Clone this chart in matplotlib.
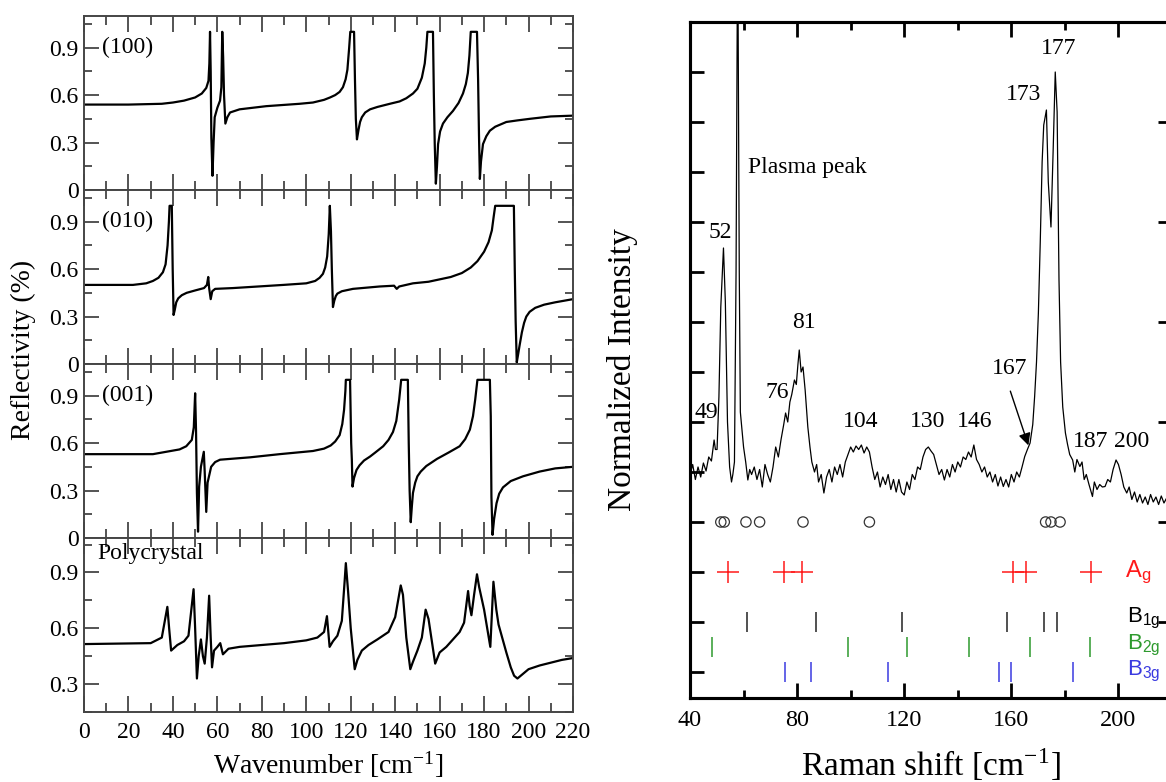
import matplotlib
matplotlib.use('Agg')
import matplotlib.pyplot as plt
from matplotlib.ticker import MultipleLocator

plt.rcParams['font.family'] = 'Liberation Serif'
plt.rcParams['mathtext.fontset'] = 'stix'

# ---------------- left: reflectivity spectra ----------------
wn_100 = [0, 20, 35, 40, 45, 50, 53, 55, 56, 56.4, 56.7, 57.0, 57.3, 57.8, 58.3, 58.8, 60, 61.2, 61.8,
          62.2, 62.6, 63.0, 63.6, 64.5, 65.7, 70, 82, 97, 103, 108, 110.7, 113, 115, 116.5, 117.7, 118.5,
          119.3, 119.8, 121.5, 121.9, 122.3, 122.8, 123.5, 124.2, 125, 126.5, 128.7, 132, 137.6, 142, 145,
          148, 150, 152, 153.3, 154, 154.5, 157, 157.4, 157.8, 158.3, 158.8, 159.3, 160.2, 161.5, 163.5,
          166, 168.5, 170.5, 171.8, 172.7, 173.4, 174, 176.8, 177.3, 177.7, 178.1, 178.6, 179.5, 181,
          182.6, 185, 190, 195, 200.6, 210, 220]
r_100 = [0.54, 0.54, 0.545, 0.553, 0.565, 0.585, 0.61, 0.645, 0.69, 0.80, 1.0, 0.75, 0.33, 0.09, 0.30,
         0.46, 0.52, 0.565, 0.65, 1.0, 0.84, 0.60, 0.42, 0.46, 0.49, 0.51, 0.53, 0.545, 0.553, 0.57, 0.585,
         0.60, 0.62, 0.65, 0.70, 0.76, 0.9, 1.0, 1.0, 0.7, 0.45, 0.32, 0.38, 0.43, 0.46, 0.49, 0.51, 0.525,
         0.545, 0.56, 0.58, 0.61, 0.64, 0.71, 0.8, 0.9, 1.0, 1.0, 0.6, 0.29, 0.04, 0.15, 0.29, 0.37, 0.42,
         0.46, 0.50, 0.55, 0.61, 0.67, 0.74, 0.85, 1.0, 1.0, 0.7, 0.35, 0.07, 0.18, 0.29, 0.34, 0.375, 0.40,
         0.43, 0.44, 0.45, 0.465, 0.47]

wn_010 = [0, 22, 28, 31, 33.5, 35.5, 36.7, 37.6, 38.2, 38.5, 39.5, 39.9, 40.3, 40.8, 41.5, 42.4, 44,
          46.2, 50, 54, 55.3, 55.9, 56.3, 57, 57.7, 59, 67, 89.7, 100, 104, 106, 107.5, 108.5, 109.4,
          110.1, 110.6, 111.1, 111.5, 112, 112.6, 113.3, 114, 116, 121, 133, 139.5, 140.7, 141.8, 148,
          155, 160, 165, 170, 174, 177, 180, 182, 183.5, 184.3, 185, 193.4, 193.8, 194.2, 194.7, 195.3,
          196, 197, 198, 199, 200.5, 203, 207, 212, 220]
r_010 = [0.50, 0.50, 0.51, 0.525, 0.545, 0.58, 0.63, 0.75, 0.9, 1.0, 1.0, 0.6, 0.31, 0.34, 0.39, 0.415,
         0.435, 0.45, 0.465, 0.48, 0.50, 0.55, 0.48, 0.41, 0.46, 0.475, 0.48, 0.50, 0.51, 0.525, 0.545,
         0.57, 0.61, 0.68, 0.82, 1.0, 0.84, 0.6, 0.36, 0.40, 0.43, 0.445, 0.46, 0.475, 0.49, 0.495, 0.475,
         0.49, 0.51, 0.52, 0.535, 0.55, 0.575, 0.61, 0.65, 0.71, 0.77, 0.845, 0.93, 1.0, 1.0, 0.6, 0.27,
         0.01, 0.06, 0.12, 0.2, 0.26, 0.30, 0.33, 0.355, 0.375, 0.39, 0.41]

wn_001 = [0, 31, 43, 46, 48.5, 49.4, 50.0, 50.4, 50.8, 51.3, 51.8, 52.6, 53.9, 54.3, 55.0, 55.6, 57.2,
          59, 61.2, 74.7, 88, 103, 108, 111, 113, 115, 116.2, 117, 117.6, 117.8, 119.7, 120.2, 120.5,
          120.8, 121.5, 122.6, 124, 126, 128.7, 131, 134.6, 137, 139, 140.5, 141.8, 142.7, 145.7, 146.1,
          146.5, 147.0, 147.5, 148, 149, 150, 151.5, 154, 158.8, 164, 169, 171.5, 173.6, 175, 176, 177,
          182.6, 183.0, 183.3, 183.8, 184.5, 185.6, 186.8, 188.5, 192, 197.5, 205, 212, 220]
r_001 = [0.53, 0.53, 0.56, 0.58, 0.62, 0.70, 0.915, 0.68, 0.285, 0.04, 0.325, 0.45, 0.545, 0.42, 0.165,
         0.35, 0.45, 0.48, 0.495, 0.51, 0.53, 0.55, 0.565, 0.585, 0.61, 0.65, 0.72, 0.81, 0.93, 1.0, 1.0,
         0.6, 0.495, 0.325, 0.38, 0.43, 0.46, 0.49, 0.515, 0.54, 0.58, 0.62, 0.67, 0.74, 0.875, 1.0, 1.0,
         0.6, 0.3, 0.10, 0.2, 0.285, 0.35, 0.39, 0.42, 0.455, 0.50, 0.54, 0.58, 0.625, 0.685, 0.77, 0.875,
         1.0, 1.0, 0.77, 0.26, 0.02, 0.12, 0.22, 0.28, 0.32, 0.36, 0.39, 0.42, 0.44, 0.45]

wn_poly = [0, 30, 35, 37.5, 38.3, 39.2, 42, 45, 47, 49.3, 50, 50.8, 51.6, 52.6, 53.5, 54.3, 55.3, 56.3,
           57, 57.6, 58.5, 60, 61.3, 62.5, 65, 70, 80, 90, 100, 105, 108, 109.3, 110.5, 112, 114, 116,
           117.3, 117.8, 118.8, 120, 121.8, 123, 125, 128, 132, 137, 140, 142.5, 143.5, 145, 146.8, 148,
           150, 152, 153.7, 155, 158, 160, 163, 166, 169, 171, 172.8, 173.5, 174.3, 175.5, 176.8, 177.8,
           180, 182.8, 184.2, 185.5, 186.5, 190, 192, 193.5, 195, 197, 200, 205, 210, 215, 220]
r_poly = [0.515, 0.52, 0.55, 0.715, 0.6, 0.48, 0.51, 0.53, 0.56, 0.81, 0.6, 0.33, 0.45, 0.54, 0.45, 0.41,
          0.55, 0.775, 0.55, 0.39, 0.48, 0.50, 0.52, 0.46, 0.49, 0.50, 0.51, 0.52, 0.535, 0.55, 0.58,
          0.665, 0.50, 0.53, 0.56, 0.64, 0.86, 0.95, 0.80, 0.6, 0.38, 0.43, 0.48, 0.51, 0.54, 0.58, 0.66,
          0.83, 0.78, 0.55, 0.38, 0.42, 0.48, 0.55, 0.70, 0.65, 0.41, 0.47, 0.50, 0.54, 0.58, 0.63, 0.80,
          0.72, 0.67, 0.78, 0.89, 0.82, 0.70, 0.50, 0.85, 0.70, 0.62, 0.47, 0.39, 0.345, 0.33, 0.35, 0.38,
          0.40, 0.415, 0.43, 0.44]

panel_names = ['(100)', '(010)', '(001)', 'Polycrystal']

# ---------------- right: Raman spectrum (shift, intensity) ----------------
raman = [(40, 4.95), (41, 5.15), (42, 4.85), (43, 5.10), (44, 4.90), (45, 5.18), (46, 5.02), (47, 5.30),
         (48, 5.22), (49, 5.64), (49.5, 5.45), (50.1, 5.45), (50.8, 6.5), (51.5, 8.3), (52.5, 9.48),
         (53.2, 8.4), (54, 6.0), (54.8, 5.1), (55.5, 4.80), (56.0, 4.95), (56.6, 5.2), (57.2, 9.0),
         (57.8, 16.0), (58.4, 9.0), (58.8, 6.2), (59.4, 5.84), (60, 5.5), (60.8, 5.2), (61.6, 4.84),
         (62.3, 5.05), (63, 4.95), (64, 5.1), (65, 4.85), (66, 5.05), (67, 4.7), (68, 5.15), (69, 4.95),
         (70, 4.8), (71, 5.1), (72, 5.5), (73, 5.3), (74, 5.65), (75, 5.95), (75.7, 6.18), (76.5, 6.0),
         (77.3, 6.4), (78, 6.55), (79, 6.84), (79.7, 6.75), (80.3, 7.15), (80.8, 7.44), (81.5, 7.0),
         (82.2, 7.1), (83, 6.64), (84, 5.9), (84.8, 5.5), (85.5, 5.2), (86.5, 5.0), (87.3, 5.15),
         (88, 4.8), (89, 4.95), (90, 4.58), (91, 4.9), (92, 5.05), (93, 4.8), (94, 5.1), (95, 4.95),
         (96, 5.15), (97, 4.9), (98, 5.2), (99, 5.35), (100, 5.5), (101, 5.4), (102, 5.52), (103, 5.45),
         (104, 5.54), (105, 5.38), (106, 5.5), (107, 5.4), (108, 5.1), (109, 4.85), (110, 5.0),
         (111, 4.7), (112, 4.9), (113, 4.75), (114, 4.95), (115, 4.65), (116, 4.85), (117, 4.6),
         (118, 4.85), (119, 4.6), (120, 4.54), (121, 4.8), (122, 4.65), (123, 4.95), (124, 4.85),
         (125, 5.1), (126, 5.05), (127, 5.3), (128, 5.45), (129, 5.5), (130, 5.42), (131, 5.35),
         (132, 5.15), (133, 4.95), (134, 5.05), (135, 4.84), (136, 5.05), (137, 4.9), (138, 5.15),
         (139, 5.0), (140, 5.2), (141, 5.1), (142, 5.3), (143, 5.25), (144, 5.4), (145, 5.3),
         (146, 5.54), (147, 5.25), (148, 5.15), (149, 5.0), (150, 5.1), (151, 4.9), (152, 5.0),
         (153, 4.8), (154, 4.95), (155, 4.72), (156, 4.9), (157, 4.71), (158, 4.85), (159, 4.7),
         (160, 4.95), (161, 4.8), (162, 5.0), (163, 4.9), (164, 5.1), (165, 5.31), (166, 5.45),
         (167, 5.58), (168, 5.95), (168.7, 6.51), (169.4, 7.2), (170.1, 8.18), (170.8, 9.6),
         (171.5, 11.2), (172.1, 11.94), (173.1, 12.24), (173.8, 10.8), (174.8, 9.9), (175.6, 11.4),
         (176.4, 13.0), (177.1, 12.2), (177.8, 8.84), (178.4, 7.2), (179.2, 6.3), (180.2, 5.78),
         (181, 5.55), (181.8, 5.35), (182.9, 5.24), (183.7, 5.0), (184.5, 5.25), (185.6, 5.11),
         (186.4, 5.2), (187.2, 4.85), (188, 4.95), (189, 4.75), (190.3, 4.51), (191, 4.8), (192, 4.65),
         (193, 4.75), (194, 4.7), (195, 4.71), (196, 4.85), (197, 4.8), (198, 5.05), (199.1, 5.24),
         (200, 5.15), (201, 4.95), (202, 4.7), (203.1, 4.58), (204, 4.7), (205, 4.45), (206, 4.6),
         (207, 4.4), (208, 4.55), (209, 4.38), (210, 4.5), (211, 4.35), (212, 4.55), (213, 4.4),
         (214, 4.5), (215, 4.35), (216, 4.52), (217, 4.38), (218, 4.48), (219, 4.33), (220, 4.5),
         (221, 4.4), (222, 4.45)]
raman_x = [p[0] for p in raman]
raman_y = [p[1] for p in raman]

circle_x = [51.5, 52.8, 60.9, 66.0, 82.2, 107.0, 172.8, 174.8, 178.2]
ag_x = [54.2, 75.0, 81.8, 160.7, 165.4, 189.6]
b1g_x = [61.2, 87.2, 119.1, 158.2, 172.1, 177.1]
b2g_x = [48.1, 99.0, 121.2, 144.1, 167.0, 189.2]
b3g_x = [75.3, 85.2, 114.1, 155.3, 160.0, 183.2]

peak_labels = ['52', '173', '177', '49', '76', '81', '104', '130', '146', '187', '200']
peak_label_x = [51.5, 164.7, 177.5, 46.1, 72.4, 82.5, 103.6, 128.7, 146.2, 189.6, 205.1]
peak_label_y = [9.8, 12.56, 13.46, 6.18, 6.58, 7.98, 6.01, 6.01, 6.01, 5.61, 5.61]

W, H = 1166, 782
fig = plt.figure(figsize=(W / 100, H / 100), dpi=100)


def fx(px):
    return px / W


def fy(py):
    return 1 - py / H


left_grey = '#454545'
tops = [16, 190, 364, 538]
series = [(wn_100, r_100), (wn_010, r_010), (wn_001, r_001), (wn_poly, r_poly)]
for i, (xs, ys) in enumerate(series):
    ax = fig.add_axes([fx(84), fy(tops[i] + 174), fx(489), 174 / H])
    ax.plot(xs, ys, color='black', lw=1.6)
    ax.set_xlim(0, 220)
    if i < 3:
        ax.set_ylim(0, 1.1)
        ax.set_yticks([0, 0.3, 0.6, 0.9])
        ax.set_yticklabels(['0', '0.3', '0.6', '0.9'])
        ax.text(8, 0.9, panel_names[i], fontsize=17, va='center')
    else:
        ax.set_ylim(0.15, 1.085)
        ax.set_yticks([0.3, 0.6, 0.9])
        ax.set_yticklabels(['0.3', '0.6', '0.9'])
        ax.text(6, 1.0, panel_names[i], fontsize=17, va='center')
    ax.yaxis.set_minor_locator(MultipleLocator(0.15))
    ax.xaxis.set_major_locator(MultipleLocator(20))
    ax.xaxis.set_minor_locator(MultipleLocator(10))
    ax.tick_params(which='both', direction='in', top=True, right=True, color=left_grey, width=1.3,
                   labelsize=17)
    ax.tick_params(axis='x', which='major', length=11.5, pad=7)
    ax.tick_params(axis='x', which='minor', length=6.5)
    ax.tick_params(axis='y', which='major', length=11, pad=4)
    ax.tick_params(axis='y', which='minor', length=6)
    if i < 3:
        ax.tick_params(axis='x', labelbottom=False)
    for s in ax.spines.values():
        s.set_color(left_grey)
        s.set_linewidth(1.4)

fig.text(fx(328), fy(764), r'Wavenumber [cm$^{\mathregular{-1}}$]', fontsize=20, ha='center', va='center')
fig.text(fx(23), fy(350), 'Reflectivity (%)', fontsize=20, ha='center', va='center', rotation=90)

# ---------------- right panel ----------------
ax = fig.add_axes([fx(690), fy(698), fx(482), 676 / H])
ax.plot(raman_x, raman_y, color='black', lw=0.9)
ax.set_xlim(40, 220)
ax.set_ylim(0.48, 14.0)

ax.scatter(circle_x, [4] * len(circle_x), s=55, facecolors='none', edgecolors='#333333', linewidths=0.9)
ax.scatter(ag_x, [3] * len(ag_x), marker='+', s=230, color='#ff1a1a', linewidths=1.1)
ax.scatter(b1g_x, [2] * len(b1g_x), marker='|', s=200, color='#222222', linewidths=1.1)
ax.scatter(b2g_x, [1.5] * len(b2g_x), marker='|', s=200, color='#2e9a2e', linewidths=1.1)
ax.scatter(b3g_x, [1] * len(b3g_x), marker='|', s=200, color='#3a3ae0', linewidths=1.1)

sans = 'Liberation Sans'
ax.text(202.4, 3, r'A$_\mathregular{g}$', color='#ff1a1a', fontsize=17, family=sans, va='center')
ax.text(203.1, 2.08, r'B$_\mathregular{1g}$', color='black', fontsize=16, family=sans, va='center')
ax.text(203.1, 1.55, r'B$_\mathregular{2g}$', color='#2e9a2e', fontsize=16, family=sans, va='center')
ax.text(203.1, 1.02, r'B$_\mathregular{3g}$', color='#3a3ae0', fontsize=16, family=sans, va='center')

for lab, lx, ly in zip(peak_labels, peak_label_x, peak_label_y):
    ax.text(lx, ly, lab, fontsize=17, ha='center', va='center')
ax.text(61.8, 11.08, 'Plasma peak', fontsize=17, ha='left', va='center')
ax.text(159.3, 7.07, '167', fontsize=17, ha='center', va='center')
ax.annotate('', xy=(166.7, 5.48), xytext=(159.3, 6.67),
            arrowprops=dict(arrowstyle='-|>', color='black', lw=1.0, mutation_scale=18))

ax.set_xticks([40, 80, 120, 160, 200])
ax.xaxis.set_minor_locator(MultipleLocator(20))
ax.set_yticks(range(1, 14))
ax.set_yticklabels([])
ax.tick_params(which='both', direction='in', width=2.0, labelsize=17.5, top=True)
ax.tick_params(axis='x', which='major', length=11, pad=9)
ax.tick_params(axis='x', which='minor', length=6)
ax.tick_params(axis='y', length=10)
for s in ax.spines.values():
    s.set_linewidth(2.2)

ax2 = ax.twinx()
ax2.set_ylim(0.48, 14.0)
ax2.set_yticks(range(2, 14, 2))
ax2.set_yticks(range(1, 14, 2), minor=True)
ax2.set_yticklabels([])
ax2.tick_params(which='both', direction='in', width=2.0)
ax2.tick_params(which='major', length=10)
ax2.tick_params(which='minor', length=4)
for s in ax2.spines.values():
    s.set_linewidth(2.2)

fig.text(fx(931), fy(765), r'Raman shift [cm$^{\mathregular{-1}}$]', fontsize=24, ha='center', va='center')
fig.text(fx(622), fy(370), 'Normalized Intensity', fontsize=24, ha='center', va='center', rotation=90)

fig.savefig('out.png', dpi=100)
